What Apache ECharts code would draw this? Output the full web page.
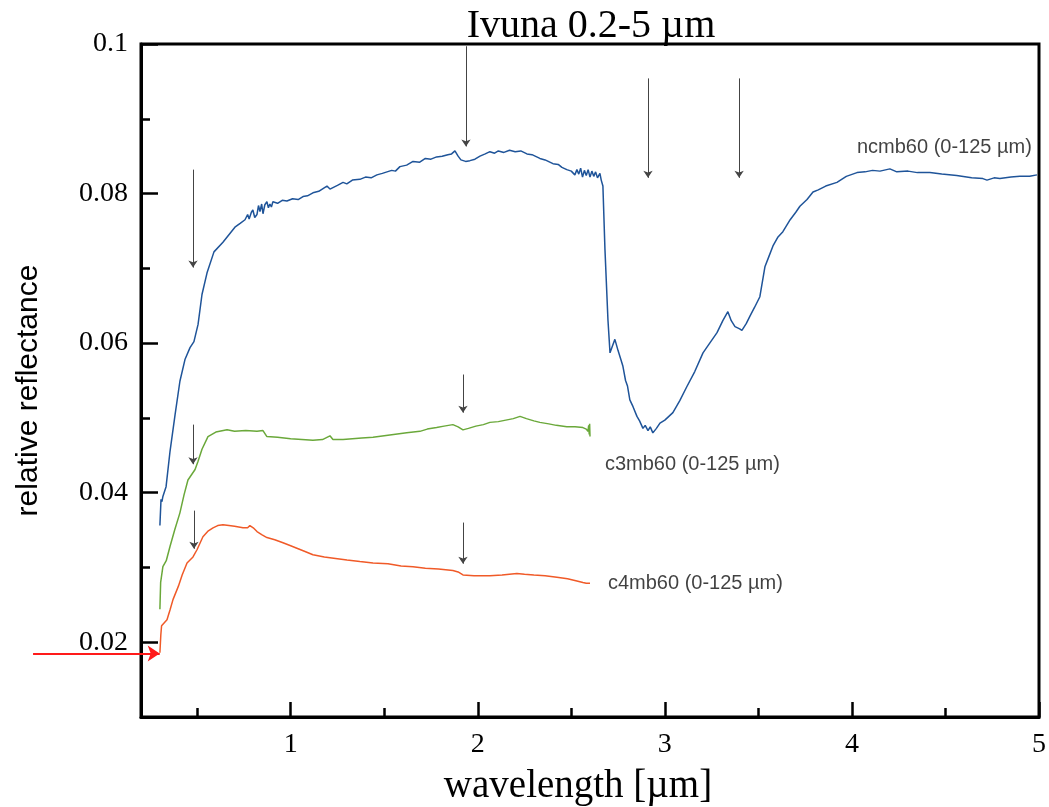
<!DOCTYPE html>
<html>
<head>
<meta charset="utf-8">
<title>Ivuna 0.2-5 µm</title>
<script src="https://cdn.jsdelivr.net/npm/echarts@6/dist/echarts.min.js"></script>
<style>
  html, body { margin: 0; padding: 0; background: #fff; }
  #chart { width: 1049px; height: 807px; }
</style>
</head>
<body>
<div id="chart"></div>
<script>
// Reflectance spectra of Ivuna samples: [wavelength (µm), relative reflectance]
const seriesNames = ['ncmb60 (0-125 µm)', 'c3mb60 (0-125 µm)', 'c4mb60 (0-125 µm)'];

const ncmb60 = [
  [0.301, 0.0356], [0.307, 0.0391], [0.312, 0.0388], [0.317, 0.0395], [0.334, 0.0408],
  [0.355, 0.0455], [0.382, 0.0504], [0.408, 0.0549], [0.435, 0.0578], [0.462, 0.0594],
  [0.483, 0.0602], [0.505, 0.0625], [0.526, 0.0665], [0.553, 0.0694], [0.590, 0.0722],
  [0.638, 0.0735], [0.702, 0.0755], [0.730, 0.0760], [0.756, 0.0765], [0.770, 0.0772],
  [0.778, 0.0766], [0.790, 0.0775], [0.798, 0.0778], [0.808, 0.0768], [0.820, 0.0772],
  [0.828, 0.0784], [0.836, 0.0776], [0.845, 0.0786], [0.852, 0.0773], [0.862, 0.0785],
  [0.873, 0.0789], [0.881, 0.0781], [0.889, 0.0786], [0.897, 0.0782], [0.905, 0.0789],
  [0.930, 0.0787], [0.955, 0.0791], [0.980, 0.0790], [1.010, 0.0793], [1.040, 0.0792],
  [1.066, 0.0796], [1.090, 0.0797], [1.119, 0.0801], [1.150, 0.0803], [1.175, 0.0807],
  [1.194, 0.0810], [1.210, 0.0806], [1.226, 0.0808], [1.250, 0.0811], [1.280, 0.0815],
  [1.300, 0.0813], [1.330, 0.0818], [1.370, 0.0819], [1.400, 0.0822], [1.430, 0.0821],
  [1.461, 0.0825], [1.490, 0.0827], [1.515, 0.0829], [1.540, 0.0831], [1.560, 0.0830],
  [1.584, 0.0836], [1.620, 0.0838], [1.654, 0.0843], [1.690, 0.0842], [1.720, 0.0847],
  [1.750, 0.0846], [1.780, 0.0849], [1.810, 0.0850], [1.840, 0.0852], [1.860, 0.0853],
  [1.878, 0.0857], [1.895, 0.0850], [1.910, 0.0845], [1.935, 0.0843], [1.958, 0.0844],
  [1.985, 0.0846], [2.012, 0.0850], [2.040, 0.0853], [2.065, 0.0856], [2.090, 0.0854],
  [2.110, 0.0857], [2.140, 0.0855], [2.170, 0.0858], [2.200, 0.0856], [2.230, 0.0857],
  [2.263, 0.0853], [2.290, 0.0852], [2.332, 0.0847], [2.360, 0.0845], [2.402, 0.0840],
  [2.430, 0.0839], [2.450, 0.0835], [2.476, 0.0832], [2.500, 0.0830], [2.519, 0.0825],
  [2.530, 0.0832], [2.540, 0.0826], [2.550, 0.0834], [2.560, 0.0822], [2.570, 0.0831],
  [2.580, 0.0824], [2.590, 0.0832], [2.600, 0.0822], [2.610, 0.0830], [2.620, 0.0823],
  [2.630, 0.0829], [2.640, 0.0821], [2.653, 0.0827], [2.660, 0.0818], [2.669, 0.0810],
  [2.680, 0.0725], [2.696, 0.0631], [2.707, 0.0587], [2.720, 0.0596], [2.733, 0.0605],
  [2.750, 0.0590], [2.765, 0.0578], [2.776, 0.0569], [2.790, 0.0550], [2.800, 0.0543],
  [2.813, 0.0524], [2.830, 0.0515], [2.851, 0.0502], [2.865, 0.0496], [2.883, 0.0486],
  [2.895, 0.0490], [2.910, 0.0483], [2.922, 0.0488], [2.936, 0.0480], [2.955, 0.0486],
  [2.974, 0.0493], [3.000, 0.0497], [3.043, 0.0507], [3.080, 0.0523], [3.118, 0.0542],
  [3.160, 0.0562], [3.204, 0.0587], [3.240, 0.0600], [3.279, 0.0614], [3.310, 0.0630],
  [3.337, 0.0642], [3.355, 0.0630], [3.375, 0.0622], [3.400, 0.0619], [3.412, 0.0617],
  [3.435, 0.0626], [3.455, 0.0636], [3.480, 0.0648], [3.508, 0.0662], [3.535, 0.0702],
  [3.555, 0.0715], [3.578, 0.0730], [3.605, 0.0742], [3.631, 0.0749], [3.670, 0.0765],
  [3.700, 0.0775], [3.722, 0.0783], [3.760, 0.0792], [3.792, 0.0802], [3.820, 0.0805],
  [3.860, 0.0810], [3.920, 0.0815], [3.970, 0.0823], [4.027, 0.0828], [4.070, 0.0829],
  [4.110, 0.0831], [4.150, 0.0830], [4.203, 0.0833], [4.240, 0.0829], [4.300, 0.0830],
  [4.350, 0.0828], [4.417, 0.0828], [4.480, 0.0826], [4.560, 0.0824], [4.640, 0.0821],
  [4.700, 0.0820], [4.722, 0.0818], [4.760, 0.0821], [4.791, 0.0820], [4.850, 0.0822],
  [4.898, 0.0823], [4.950, 0.0823], [4.989, 0.0825]
];

const c3mb60 = [
  [0.301, 0.0244], [0.305, 0.0280], [0.317, 0.0301], [0.335, 0.0309], [0.355, 0.0328],
  [0.380, 0.0350], [0.408, 0.0373], [0.430, 0.0397], [0.451, 0.0417], [0.470, 0.0424],
  [0.489, 0.0431], [0.505, 0.0442], [0.526, 0.0458], [0.558, 0.0475], [0.600, 0.0481],
  [0.660, 0.0484], [0.700, 0.0482], [0.760, 0.0483], [0.820, 0.0482], [0.852, 0.0483],
  [0.873, 0.0475], [0.930, 0.0474], [1.000, 0.0472], [1.060, 0.0471], [1.119, 0.0470],
  [1.170, 0.0471], [1.210, 0.0476], [1.226, 0.0471], [1.280, 0.0471], [1.330, 0.0472],
  [1.380, 0.0473], [1.440, 0.0474], [1.500, 0.0476], [1.560, 0.0478], [1.620, 0.0480],
  [1.691, 0.0482], [1.730, 0.0485], [1.780, 0.0487], [1.820, 0.0489], [1.867, 0.0491],
  [1.895, 0.0488], [1.921, 0.0484], [1.950, 0.0486], [1.990, 0.0489], [2.030, 0.0491],
  [2.065, 0.0494], [2.110, 0.0495], [2.150, 0.0497], [2.190, 0.0499], [2.226, 0.0502],
  [2.260, 0.0499], [2.300, 0.0496], [2.332, 0.0494], [2.380, 0.0492], [2.420, 0.0490],
  [2.476, 0.0488], [2.520, 0.0488], [2.562, 0.0487], [2.580, 0.0485], [2.589, 0.0482],
  [2.593, 0.0490], [2.596, 0.0478], [2.598, 0.0492], [2.600, 0.0475]
];

const c4mb60 = [
  [0.301, 0.0186], [0.306, 0.0210], [0.310, 0.0222], [0.320, 0.0224], [0.339, 0.0230],
  [0.355, 0.0243], [0.371, 0.0257], [0.400, 0.0275], [0.420, 0.0290], [0.446, 0.0306],
  [0.478, 0.0314], [0.500, 0.0324], [0.531, 0.0341], [0.560, 0.0349], [0.585, 0.0353],
  [0.610, 0.0356], [0.638, 0.0357], [0.670, 0.0356], [0.700, 0.0355], [0.745, 0.0353],
  [0.770, 0.0353], [0.782, 0.0356], [0.800, 0.0353], [0.820, 0.0348], [0.845, 0.0344],
  [0.873, 0.0340], [0.915, 0.0337], [0.959, 0.0333], [1.000, 0.0329], [1.040, 0.0325],
  [1.080, 0.0321], [1.119, 0.0317], [1.180, 0.0314], [1.240, 0.0312], [1.301, 0.0310],
  [1.370, 0.0308], [1.440, 0.0306], [1.520, 0.0305], [1.590, 0.0302], [1.654, 0.0301],
  [1.720, 0.0299], [1.790, 0.0298], [1.867, 0.0296], [1.895, 0.0294], [1.921, 0.0290],
  [1.980, 0.0289], [2.065, 0.0289], [2.130, 0.0290], [2.209, 0.0292], [2.250, 0.0291],
  [2.300, 0.0290], [2.360, 0.0289], [2.423, 0.0287], [2.480, 0.0285], [2.530, 0.0282],
  [2.562, 0.0280], [2.580, 0.0279], [2.590, 0.0277], [2.600, 0.0279]
];

// Band markers: [x, y top, y tip]
const bandArrows = [
  [0.478, 0.0832, 0.0701],
  [1.937, 0.0997, 0.0863],
  [2.910, 0.0954, 0.0821],
  [3.397, 0.0954, 0.0821],
  [0.478, 0.0491, 0.0438],
  [1.921, 0.0558, 0.0507],
  [0.483, 0.0376, 0.0325],
  [1.921, 0.0360, 0.0305]
];

// Baseline marker for the darkest sample: [x start, x end, y]
const baselineArrow = [-0.377, 0.300, 0.0185];

// Where each sample name is written: [x, y]
const nameAnchors = [[4.027, 0.0862], [2.680, 0.0438], [2.696, 0.0278]];

const colors = ['#1f5499', '#6aa83a', '#f05a28'];
const serif = '"Liberation Serif", "DejaVu Serif", serif';
const sans = '"Liberation Sans", Arial, sans-serif';

const chart = echarts.init(document.getElementById('chart'), null, { renderer: 'canvas' });

const spectra = [ncmb60, c3mb60, c4mb60];

const option = {
  animation: false,
  title: {
    text: 'Ivuna 0.2-5 µm',
    left: 586, textAlign: 'center', top: 1,
    textStyle: { fontFamily: serif, fontSize: 40, fontWeight: 'normal', color: '#000' }
  },
  grid: {
    left: 141, right: 10, top: 44, bottom: 90,
    outerBoundsMode: 'none', containLabel: false,
    show: true, borderColor: '#000', borderWidth: 3, backgroundColor: 'transparent'
  },
  xAxis: {
    type: 'value', min: 0.2, max: 5, splitNumber: 5,
    name: 'wavelength [µm]', nameLocation: 'middle', nameGap: 50,
    nameTextStyle: { fontFamily: serif, fontSize: 39, color: '#000', padding: [0, 24, 0, 0] },
    axisLine: { show: true, onZero: false, lineStyle: { color: '#000', width: 3 } },
    axisTick: { show: true, inside: true, length: 15, lineStyle: { color: '#000', width: 2.5 } },
    minorTick: { show: true, splitNumber: 2, length: 9, lineStyle: { color: '#000', width: 2.5 } },
    axisLabel: { showMinLabel: false, margin: 14, fontFamily: serif, fontSize: 28, color: '#000' },
    splitLine: { show: false }
  },
  yAxis: {
    type: 'value', min: 0.01, max: 0.1, splitNumber: 5,
    name: 'relative reflectance', nameLocation: 'middle', nameGap: 97, nameRotate: 90,
    nameTextStyle: { fontFamily: sans, fontSize: 30, color: '#000', padding: [0, 20, 0, 0] },
    axisLine: { show: true, onZero: false, lineStyle: { color: '#000', width: 3 } },
    axisTick: { show: true, inside: true, length: 17, lineStyle: { color: '#000', width: 2.5 } },
    minorTick: { show: true, splitNumber: 2, length: 9, lineStyle: { color: '#000', width: 2.5 } },
    axisLabel: { showMinLabel: false, margin: 13, fontFamily: serif, fontSize: 28, color: '#000' },
    splitLine: { show: false }
  },
  series: [
    ...spectra.map((d, i) => ({
      name: seriesNames[i], type: 'line', data: d, showSymbol: false, symbol: 'none',
      lineStyle: { color: colors[i], width: 1.5 }, z: 3
    })),
    {
      type: 'lines', coordinateSystem: 'cartesian2d', z: 4,
      symbol: ['none', 'arrow'], symbolSize: 7,
      lineStyle: { color: '#444', width: 1, opacity: 1 },
      data: bandArrows.map(a => ({ coords: [[a[0], a[1]], [a[0], a[2]]] }))
    },
    {
      type: 'lines', coordinateSystem: 'cartesian2d', z: 5, clip: false,
      symbol: ['none', 'arrow'], symbolSize: 12,
      lineStyle: { color: '#ff1a1a', width: 2, opacity: 1 },
      data: [{ coords: [[baselineArrow[0], baselineArrow[2]], [baselineArrow[1], baselineArrow[2]]] }]
    },
    {
      type: 'scatter', symbolSize: 0, z: 6, silent: true,
      data: nameAnchors.map((p, i) => ({ value: p, name: seriesNames[i] })),
      label: {
        show: true, position: 'right', distance: 0,
        formatter: p => p.name,
        fontFamily: sans, fontSize: 20, color: '#111'
      }
    }
  ]
};

chart.setOption(option);
</script>
</body>
</html>
